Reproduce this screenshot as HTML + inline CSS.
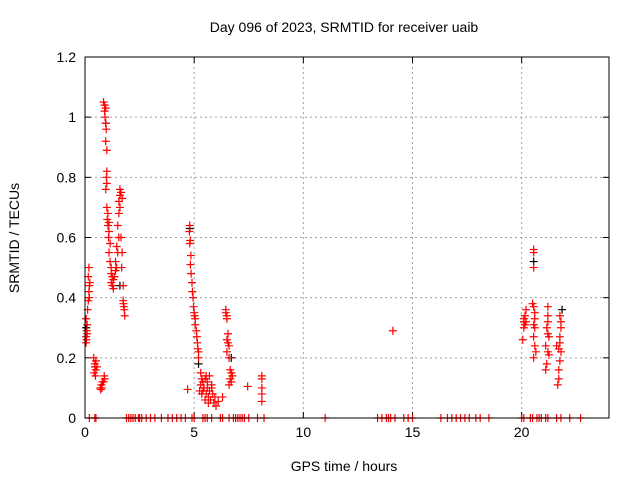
<!DOCTYPE html>
<html><head><meta charset="utf-8"><style>
html,body{margin:0;padding:0;background:#fff;}
svg{display:block;font-family:"Liberation Sans",sans-serif;}
</style></head><body>
<svg id="chart" width="640" height="480">
<text x="344" y="32" text-anchor="middle" font-size="14">Day 096 of 2023, SRMTID for receiver uaib</text>
<text x="344" y="471" text-anchor="middle" font-size="14">GPS time / hours</text>
<text transform="translate(19,238) rotate(-90)" text-anchor="middle" font-size="14">SRMTID / TECUs</text>
<g id="grid"></g><g id="ticks"></g><g id="marks"></g>
<rect x="85" y="57" width="524" height="361" fill="none" stroke="#000" stroke-width="1"/>
</svg>
<script>
const xTicks=[0,5,10,15,20];
const xTickLabels=["0","5","10","15","20"];
const yTicks=[0,0.2,0.4,0.6,0.8,1.0,1.2];
const yTickLabels=["0","0.2","0.4","0.6","0.8","1","1.2"];
const redTimes=[0.05,0.05,0.08,0.1,0.05,0.12,0.15,0.18,0.2,0.15,0.18,0.22,0.2,0.1,0.07,
0.4,0.45,0.45,0.5,0.42,0.48,0.5,0.55,
0.7,0.75,0.8,0.85,0.9,0.78,0.88,0.72,
0.85,0.9,0.95,0.9,0.92,0.95,0.97,0.95,1.0,1.0,0.98,1.0,0.95,1.0,1.05,1.02,1.1,1.05,1.1,1.08,1.15,1.1,1.15,1.2,1.2,1.25,1.2,1.25,1.3,1.3,
1.35,1.4,1.45,1.4,1.5,1.45,1.55,1.5,1.55,1.6,1.55,1.6,1.65,1.6,1.7,1.65,1.7,1.68,1.75,
1.75,1.78,1.8,1.82,1.76,
4.8,4.78,4.82,4.8,4.85,4.83,4.86,4.9,4.92,4.95,4.97,5.0,5.02,5.05,5.05,5.1,5.12,5.15,5.17,5.2,5.2,4.7,
5.3,5.35,5.4,5.3,5.45,5.5,5.4,5.55,5.6,5.6,5.7,5.65,5.7,5.8,5.75,5.85,5.9,5.95,6.0,5.5,5.35,5.65,5.8,5.25,5.55,6.1,
6.45,6.45,6.5,6.5,6.55,6.5,6.55,6.6,6.5,6.6,6.65,6.7,6.65,6.7,6.75,6.6,6.3,7.45,8.1,8.1,8.1,8.1,8.1,
14.1,
20.05,20.1,20.15,20.2,20.1,20.15,20.2,20.1,
20.55,20.55,20.55,20.5,20.55,20.6,20.6,20.55,20.6,20.55,20.6,20.55,20.65,
21.2,21.2,21.2,21.15,21.2,21.25,21.1,21.2,21.25,21.15,21.1,
21.75,21.8,21.8,21.75,21.7,21.8,21.75,21.7,21.7,21.65,21.75,21.6];
const redValues=[0.27,0.25,0.29,0.31,0.33,0.36,0.39,0.42,0.44,0.47,0.5,0.45,0.4,0.28,0.26,
0.2,0.18,0.17,0.16,0.15,0.14,0.19,0.17,
0.1,0.11,0.12,0.12,0.13,0.1,0.14,0.095,
1.05,1.04,1.03,1.02,1.0,0.98,0.96,0.92,0.89,0.82,0.8,0.78,0.76,0.7,0.68,0.66,0.65,0.64,0.62,0.6,0.58,0.55,0.52,0.5,0.48,0.47,0.45,0.44,0.46,0.43,
0.47,0.49,0.5,0.52,0.55,0.57,0.6,0.64,0.68,0.7,0.72,0.74,0.75,0.76,0.73,0.6,0.55,0.5,0.44,
0.39,0.37,0.36,0.34,0.38,
0.64,0.62,0.59,0.58,0.54,0.51,0.48,0.45,0.42,0.4,0.37,0.35,0.34,0.33,0.31,0.29,0.27,0.25,0.23,0.22,0.2,0.095,
0.15,0.13,0.12,0.11,0.1,0.13,0.09,0.08,0.12,0.1,0.14,0.07,0.09,0.1,0.06,0.08,0.05,0.07,0.04,0.06,0.08,0.05,0.11,0.09,0.14,0.055,
0.36,0.35,0.34,0.33,0.28,0.26,0.25,0.24,0.22,0.2,0.16,0.15,0.13,0.12,0.14,0.11,0.07,0.105,0.14,0.13,0.1,0.08,0.055,
0.29,
0.26,0.3,0.31,0.32,0.33,0.34,0.36,0.32,
0.56,0.55,0.5,0.38,0.37,0.35,0.33,0.31,0.3,0.27,0.24,0.2,0.22,
0.37,0.34,0.32,0.3,0.28,0.27,0.24,0.22,0.21,0.18,0.16,
0.34,0.32,0.3,0.27,0.23,0.22,0.19,0.16,0.13,0.11,0.25,0.24];
const zeroTimes=[0.2,0.45,0.5,1.9,2.0,2.1,2.2,2.3,2.45,2.5,2.6,2.8,3.0,3.2,3.5,3.8,4.0,4.2,4.4,4.6,4.9,5.0,5.4,5.5,5.6,5.8,6.2,6.3,6.6,6.8,6.9,7.0,7.1,7.2,7.3,7.5,7.9,8.2,11.0,13.4,13.6,13.8,13.9,14.0,14.2,14.6,14.8,15.0,16.3,16.6,16.8,17.0,17.2,17.4,17.6,17.9,18.1,18.5,20.0,20.1,20.4,20.5,20.7,20.8,20.9,21.1,21.2,21.6,21.8,22.2,22.7];
const blackTimes=[0.95,1.6,4.8,20.55,21.85,5.2,6.7,0.05];
const blackValues=[0.98,0.44,0.63,0.52,0.36,0.18,0.2,0.3];
const X0=85,X1=609,Y0=418,Y1=57,XMAX=24,YMAX=1.2;
function xs(t){return X0+t/XMAX*(X1-X0);}
function ys(v){return Y0-v/YMAX*(Y0-Y1);}
const NS="http://www.w3.org/2000/svg";
function mk(tag,attrs,parent){const e=document.createElementNS(NS,tag);for(const k in attrs)e.setAttribute(k,attrs[k]);parent.appendChild(e);return e;}
const grid=document.getElementById('grid'),ticks=document.getElementById('ticks'),marks=document.getElementById('marks');
yTicks.forEach((v,i)=>{const y=ys(v);
 if(i>0&&i<yTicks.length-1){const g=mk('line',{x1:X0,x2:X1,y1:y,y2:y,stroke:'#a0a0a0','stroke-dasharray':'2,3'},grid);
 
 }
 mk('line',{x1:X0,x2:X0+6,y1:y,y2:y,stroke:'#000'},ticks);
 mk('line',{x1:X1-6,x2:X1,y1:y,y2:y,stroke:'#000'},ticks);
 const t=mk('text',{x:X0-9,y:y+5,'text-anchor':'end','font-size':'14'},ticks);t.textContent=yTickLabels[i];
 
 
});
xTicks.forEach((v,i)=>{const x=xs(v);
 if(i>0){const g=mk('line',{x1:x,x2:x,y1:Y1,y2:Y0,stroke:'#a0a0a0','stroke-dasharray':'2,3'},grid);
 
 }
 mk('line',{x1:x,x2:x,y1:Y0,y2:Y0-6,stroke:'#000'},ticks);
 mk('line',{x1:x,x2:x,y1:Y1,y2:Y1+6,stroke:'#000'},ticks);
 const t=mk('text',{x:x,y:Y0+19,'text-anchor':'middle','font-size':'14'},ticks);t.textContent=xTickLabels[i];
 
 
});
function plus(t,v,color,name){const x=xs(t),y=ys(v);
 const p=mk('path',{d:`M${x-4},${y}H${x+4}M${x},${y-4}V${y+4}`,stroke:color,'stroke-width':'1.2',fill:'none'},marks);
 
 }
blackTimes.forEach((t,i)=>plus(t,blackValues[i],'#000','black-point'));
redTimes.forEach((t,i)=>plus(t,redValues[i],'#f00','srmtid-point'));
zeroTimes.forEach(t=>plus(t,0,'#f00','zero-point'));
</script>
</body></html>
